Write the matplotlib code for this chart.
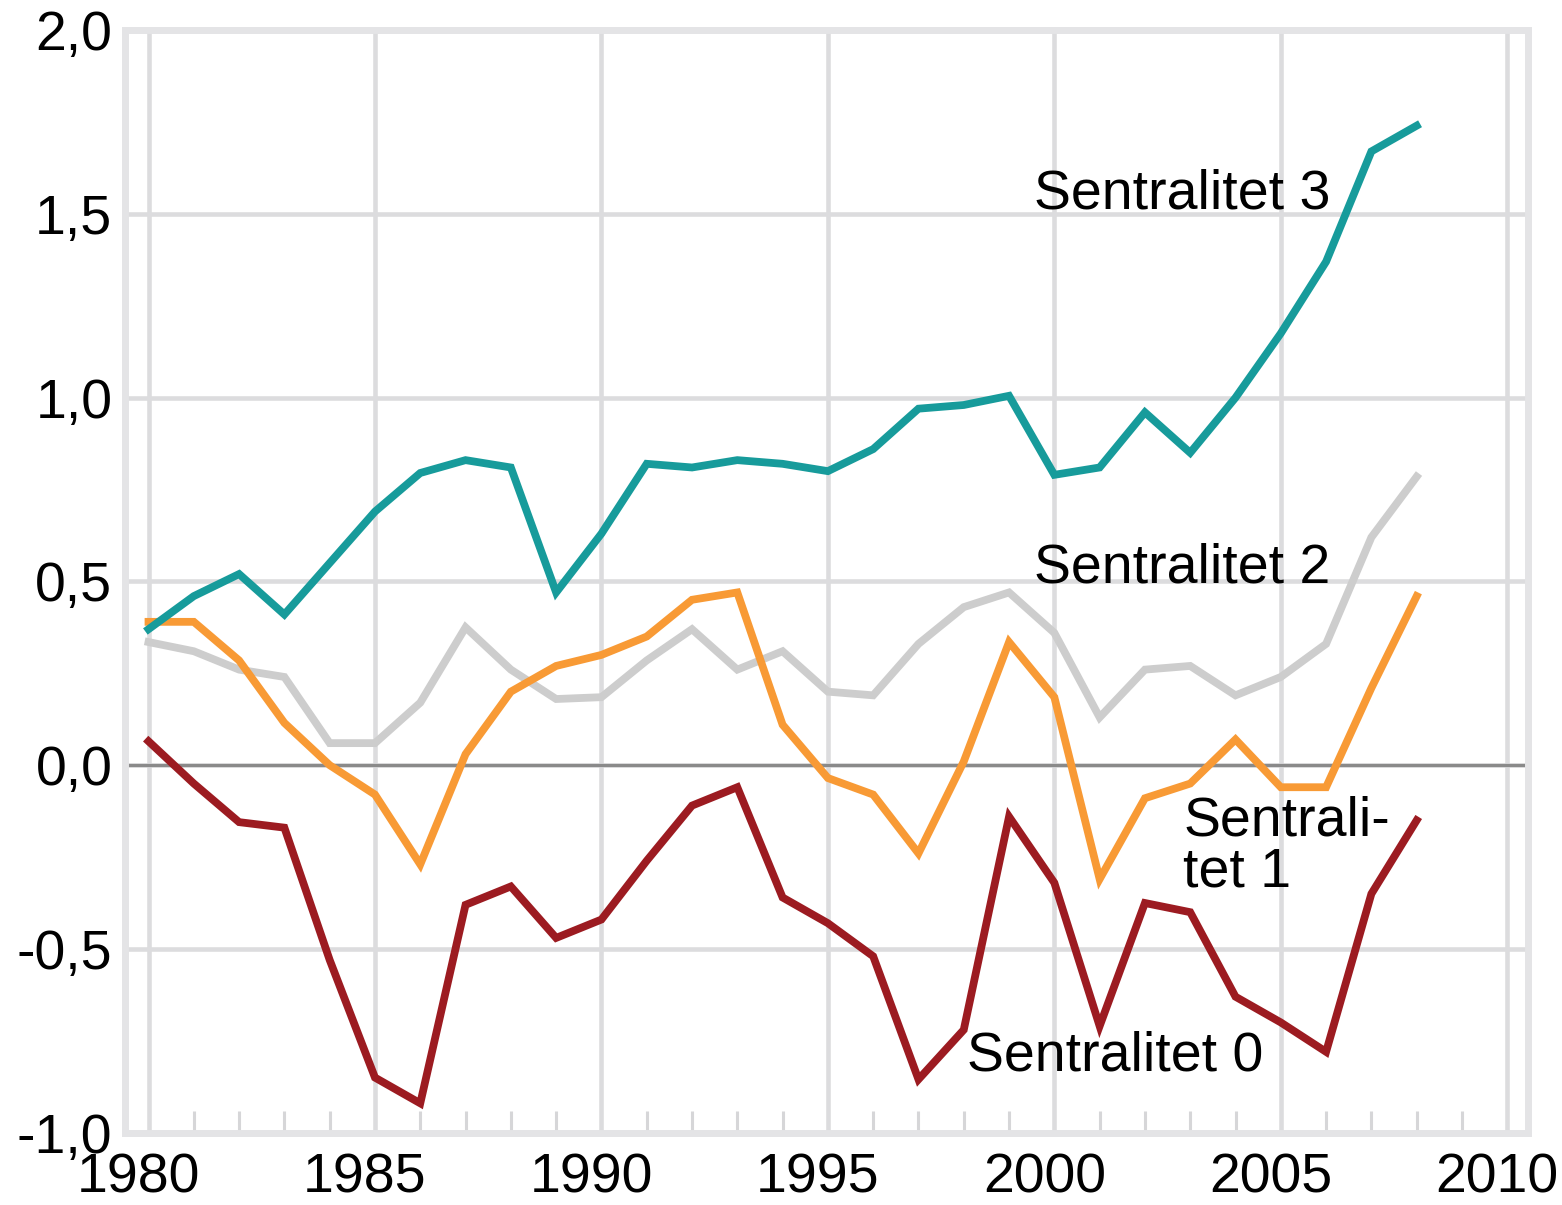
import matplotlib
matplotlib.use("Agg")
import matplotlib.pyplot as plt
import matplotlib.transforms as mtransforms
from matplotlib.ticker import FixedLocator

plt.rcParams['font.family'] = ['Liberation Sans', 'DejaVu Sans']

years = list(range(1980, 2009))

sentralitet_3 = [0.37, 0.46, 0.52, 0.41, 0.55, 0.69, 0.795, 0.83, 0.81, 0.47,
                 0.63, 0.82, 0.81, 0.83, 0.82, 0.80, 0.86, 0.97, 0.98, 1.005,
                 0.79, 0.81, 0.96, 0.85, 1.00, 1.175, 1.37, 1.67, 1.74]

sentralitet_2 = [0.335, 0.31, 0.26, 0.24, 0.06, 0.06, 0.17, 0.375, 0.26, 0.18,
                 0.185, 0.285, 0.37, 0.26, 0.31, 0.20, 0.19, 0.33, 0.43, 0.47,
                 0.36, 0.13, 0.26, 0.27, 0.19, 0.24, 0.33, 0.62, 0.785]

sentralitet_1 = [0.39, 0.39, 0.285, 0.115, 0.0, -0.08, -0.27, 0.03, 0.20, 0.27,
                 0.30, 0.35, 0.45, 0.47, 0.11, -0.035, -0.08, -0.24, 0.01, 0.335,
                 0.185, -0.31, -0.09, -0.05, 0.07, -0.06, -0.06, 0.21, 0.46]

sentralitet_0 = [0.065, -0.05, -0.155, -0.17, -0.53, -0.85, -0.92, -0.38, -0.33, -0.47,
                 -0.42, -0.26, -0.11, -0.06, -0.36, -0.43, -0.52, -0.855, -0.72, -0.14,
                 -0.32, -0.71, -0.375, -0.40, -0.63, -0.70, -0.78, -0.35, -0.15]

x_major = [1980, 1985, 1990, 1995, 2000, 2005, 2010]
y_ticks = [-1.0, -0.5, 0.0, 0.5, 1.0, 1.5, 2.0]
y_labels = ["-1,0", "-0,5", "0,0", "0,5", "1,0", "1,5", "2,0"]

c_teal = "#179b9b"
c_gray = "#cdcdcd"
c_orange = "#f89a35"
c_red = "#9c1b21"
grid_c = "#dcdcde"

fig = plt.figure(figsize=(15.62, 12.05), dpi=100)
ax = fig.add_axes([0.080, 0.060, 0.898, 0.915])

ax.set_xlim(1979.48, 2010.45)
ax.set_ylim(-1.0, 2.0)

ax.xaxis.set_major_locator(FixedLocator(x_major))
ax.xaxis.set_minor_locator(FixedLocator([y for y in range(1981, 2010) if y % 5 != 0]))
ax.set_yticks(y_ticks)
ax.set_yticklabels(y_labels)

ax.grid(True, which='major', color=grid_c, linewidth=3.3, zorder=0)
ax.set_axisbelow(True)
ax.axhline(0, color="#8a8a8a", linewidth=2.3, zorder=1)

for s in ax.spines.values():
    s.set_color("#e4e4e6")
    s.set_linewidth(5)

ax.tick_params(axis='both', which='major', length=0, labelsize=40, colors='black')
ax.tick_params(axis='y', pad=9)
ax.tick_params(axis='x', pad=14)
ax.tick_params(axis='x', which='minor', direction='in', length=16, width=2.2,
               color="#d6d6d8", bottom=True, top=False)

offset = mtransforms.ScaledTranslation(-10 / 100, 0, fig.dpi_scale_trans)
for lbl in ax.get_xticklabels():
    lbl.set_transform(lbl.get_transform() + offset)

lw = 5.6
ax.plot(years, sentralitet_2, color=c_gray, linewidth=lw, zorder=3, solid_joinstyle='miter')
ax.plot(years, sentralitet_1, color=c_orange, linewidth=lw, zorder=4, solid_joinstyle='miter')
ax.plot(years, sentralitet_0, color=c_red, linewidth=lw, zorder=5, solid_joinstyle='miter')
ax.plot(years, sentralitet_3, color=c_teal, linewidth=lw, zorder=6, solid_joinstyle='miter')

fs = 40
ax.text(1999.56, 1.516, "Sentralitet 3", fontsize=fs, va='baseline', ha='left', zorder=7)
ax.text(1999.56, 0.498, "Sentralitet 2", fontsize=fs, va='baseline', ha='left', zorder=7)
ax.text(2002.85, -0.19, "Sentrali-", fontsize=fs, va='baseline', ha='left', zorder=7)
ax.text(2002.85, -0.33, "tet 1", fontsize=fs, va='baseline', ha='left', zorder=7)
ax.text(1998.08, -0.83, "Sentralitet 0", fontsize=fs, va='baseline', ha='left', zorder=7)

fig.savefig("out.png", dpi=100)
